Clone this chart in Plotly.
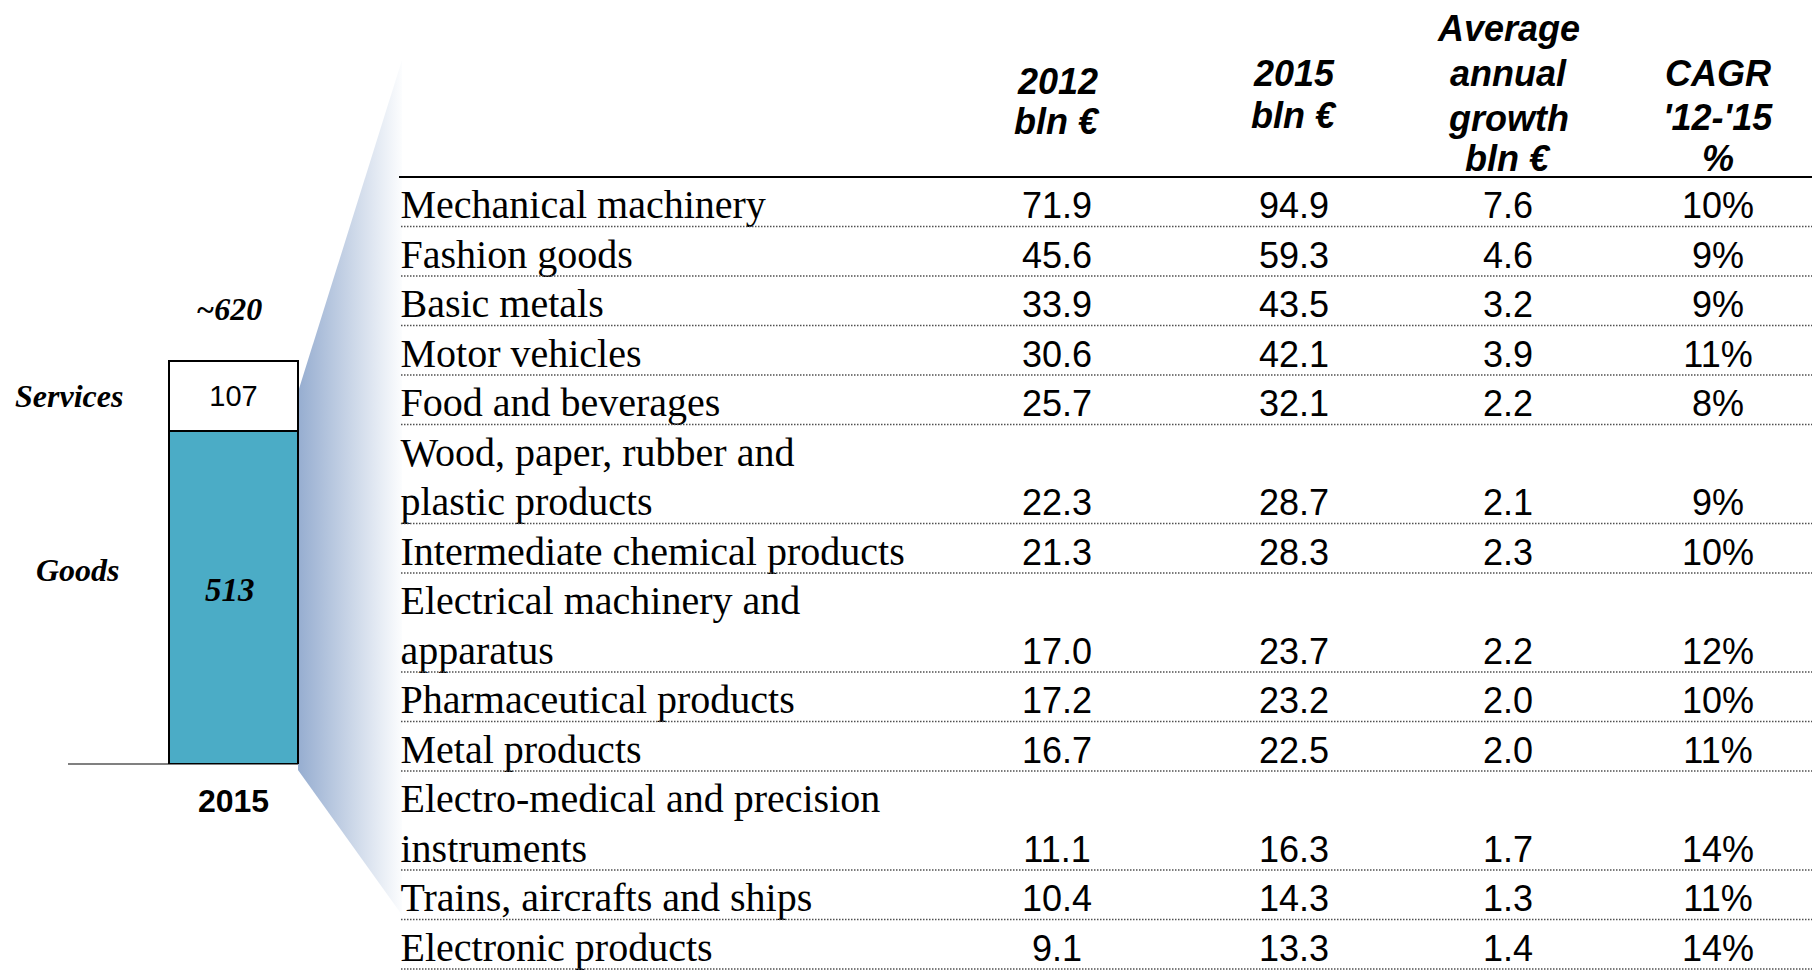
import plotly.graph_objects as go

W, H = 1812, 974

# ---- data -------------------------------------------------------------
industries = [
    "Mechanical machinery",
    "Fashion goods",
    "Basic metals",
    "Motor vehicles",
    "Food and beverages",
    "Wood, paper, rubber and\nplastic products",
    "Intermediate chemical products",
    "Electrical machinery and\napparatus",
    "Pharmaceutical products",
    "Metal products",
    "Electro-medical and precision\ninstruments",
    "Trains, aircrafts and ships",
    "Electronic products",
]
exports_2012 = [71.9, 45.6, 33.9, 30.6, 25.7, 22.3, 21.3, 17.0, 17.2, 16.7, 11.1, 10.4, 9.1]
exports_2015 = [94.9, 59.3, 43.5, 42.1, 32.1, 28.7, 28.3, 23.7, 23.2, 22.5, 16.3, 14.3, 13.3]
avg_growth = [7.6, 4.6, 3.2, 3.9, 2.2, 2.1, 2.3, 2.2, 2.0, 2.0, 1.7, 1.3, 1.4]
cagr_pct = [10, 9, 9, 11, 8, 9, 10, 12, 10, 11, 14, 11, 14]

column_headers = [
    ["2012", "bln €"],
    ["2015", "bln €"],
    ["Average", "annual", "growth", "bln €"],
    ["CAGR", "'12-'15", "%"],
]

segments = ["Goods", "Services"]
segment_values = [513, 107]
bar_year = "2015"

# ---- layout constants (pixels, y measured from the top) ----------------
TABLE_LEFT = 399
LABEL_X = 400.5
HEADER_RULE_Y = 177
LINE_PITCH = 49.5
LABEL_OFF = 18.5
NUM_OFF = 17.5
COL_X = [1057, 1294, 1508, 1718]
HEADER_Y = [[81, 121], [73, 115], [28, 73, 118, 158], [73, 117, 158]]

BAR_BASE_Y = 764
BAR_AXIS_TOP_Y = 250
PX_PER_UNIT = 0.65
BAR_X0, BAR_X1 = 68, 399

SERIF = "Liberation Serif"
SANS = "Liberation Sans"
GOODS_COLOR = "#4BACC6"

# ---- table geometry from rows ------------------------------------------
label_x, label_y, label_t = [], [], []
num_y, sep_y = [], []
slot = 0
for name in industries:
    bottom = None
    for line in name.split("\n"):
        bottom = HEADER_RULE_Y + LINE_PITCH * (slot + 1)
        label_x.append(LABEL_X)
        label_y.append(bottom - LABEL_OFF)
        label_t.append(line)
        slot += 1
    num_y.append(bottom - NUM_OFF)
    sep_y.append(bottom)

fig = go.Figure()

# zoom wedge linking the bar to the table
fig.add_trace(go.Scatter(
    x=[298, 402, 402, 298, 298], y=[392, 60, 915, 770, 392],
    mode="lines", fill="toself", line=dict(width=0),
    fillgradient=dict(type="horizontal",
                      colorscale=[[0, "rgb(150,173,208)"], [1, "rgb(252,253,254)"]]),
    hoverinfo="skip", xaxis="x", yaxis="y",
))

# row labels
fig.add_trace(go.Scatter(
    x=label_x, y=label_y, text=label_t, mode="text", textposition="middle right",
    textfont=dict(family=SERIF, size=40, color="black"),
    hoverinfo="skip", xaxis="x", yaxis="y",
))

# numeric columns
columns = [
    [f"{v:.1f}" for v in exports_2012],
    [f"{v:.1f}" for v in exports_2015],
    [f"{v:.1f}" for v in avg_growth],
    [f"{v}%" for v in cagr_pct],
]
for cx, col in zip(COL_X, columns):
    fig.add_trace(go.Scatter(
        x=[cx] * len(col), y=num_y, text=col, mode="text", textposition="middle center",
        textfont=dict(family=SANS, size=36, color="black"),
        hoverinfo="skip", xaxis="x", yaxis="y",
    ))

# stacked bar: goods + services (goods value is labelled separately below)
bar_fills = [GOODS_COLOR, "white"]
bar_texts = ["", str(segment_values[1])]
for seg, val, fill, txt in zip(segments, segment_values, bar_fills, bar_texts):
    fig.add_trace(go.Bar(
        x=[bar_year], y=[val], name=seg, width=0.39,
        marker=dict(color=fill, line=dict(color="black", width=2)),
        text=[txt], textposition="inside", insidetextanchor="middle",
        textangle=0, insidetextfont=dict(family=SANS, size=29, color="black"),
        constraintext="none", hoverinfo="skip", xaxis="x2", yaxis="y2",
    ))

total = sum(segment_values)

shapes = [
    dict(type="line", xref="x", yref="y", x0=TABLE_LEFT, x1=W, y0=HEADER_RULE_Y, y1=HEADER_RULE_Y,
         line=dict(color="black", width=2)),
    dict(type="line", xref="x", yref="y", x0=BAR_X0, x1=BAR_X1, y0=BAR_BASE_Y, y1=BAR_BASE_Y,
         line=dict(color="#808080", width=2), layer="below"),
]
for sy in sep_y:
    shapes.append(dict(type="line", xref="x", yref="y", x0=401, x1=W, y0=sy, y1=sy,
                       line=dict(color="#505050", width=1.5, dash="1.5px,1.5px")))

hfont = dict(family=SANS, size=36, color="black", weight="bold", style="italic")
annotations = []
for cx, lines, ys in zip(COL_X, column_headers, HEADER_Y):
    for line, yy in zip(lines, ys):
        annotations.append(dict(x=cx, y=yy, xref="x", yref="y", text=line, showarrow=False,
                                xanchor="center", yanchor="middle", font=hfont))

sfont = dict(family=SERIF, size=32, color="black", weight="bold", style="italic")
annotations += [
    dict(x=69, y=396, xref="x", yref="y", text=segments[1], showarrow=False,
         xanchor="center", yanchor="middle", font=sfont),
    dict(x=78, y=570, xref="x", yref="y", text=segments[0], showarrow=False,
         xanchor="center", yanchor="middle", font=sfont),
    dict(x=0.49, y=segment_values[0] / 2, xref="x2 domain", yref="y2",
         text=str(segment_values[0]), showarrow=False,
         xanchor="center", yanchor="middle", yshift=7,
         font=dict(family=SERIF, size=33, color="black", weight="bold", style="italic")),
    dict(x=0.485, y=total, xref="x2 domain", yref="y2", text=f"~{total}", showarrow=False,
         xanchor="center", yanchor="middle", yshift=52,
         font=dict(family=SERIF, size=32, color="black", weight="bold", style="italic")),
]

fig.update_layout(
    width=W, height=H, margin=dict(l=0, r=0, t=0, b=0),
    paper_bgcolor="white", plot_bgcolor="rgba(0,0,0,0)",
    showlegend=False, barmode="stack",
    xaxis=dict(range=[0, W], domain=[0, 1], visible=False, fixedrange=True),
    yaxis=dict(range=[H, 0], domain=[0, 1], visible=False, fixedrange=True),
    xaxis2=dict(domain=[BAR_X0 / W, BAR_X1 / W], anchor="y2", type="category",
                range=[-0.5, 0.5], showline=False, showgrid=False, zeroline=False,
                ticks="", ticklabelstandoff=15,
                tickfont=dict(family=SANS, size=32, color="black", weight="bold")),
    yaxis2=dict(domain=[(H - BAR_BASE_Y) / H, (H - BAR_AXIS_TOP_Y) / H], anchor="x2",
                range=[0, (BAR_BASE_Y - BAR_AXIS_TOP_Y) / PX_PER_UNIT],
                visible=False, showgrid=False, zeroline=False),
    shapes=shapes, annotations=annotations,
)

fig.write_html("out.html")
